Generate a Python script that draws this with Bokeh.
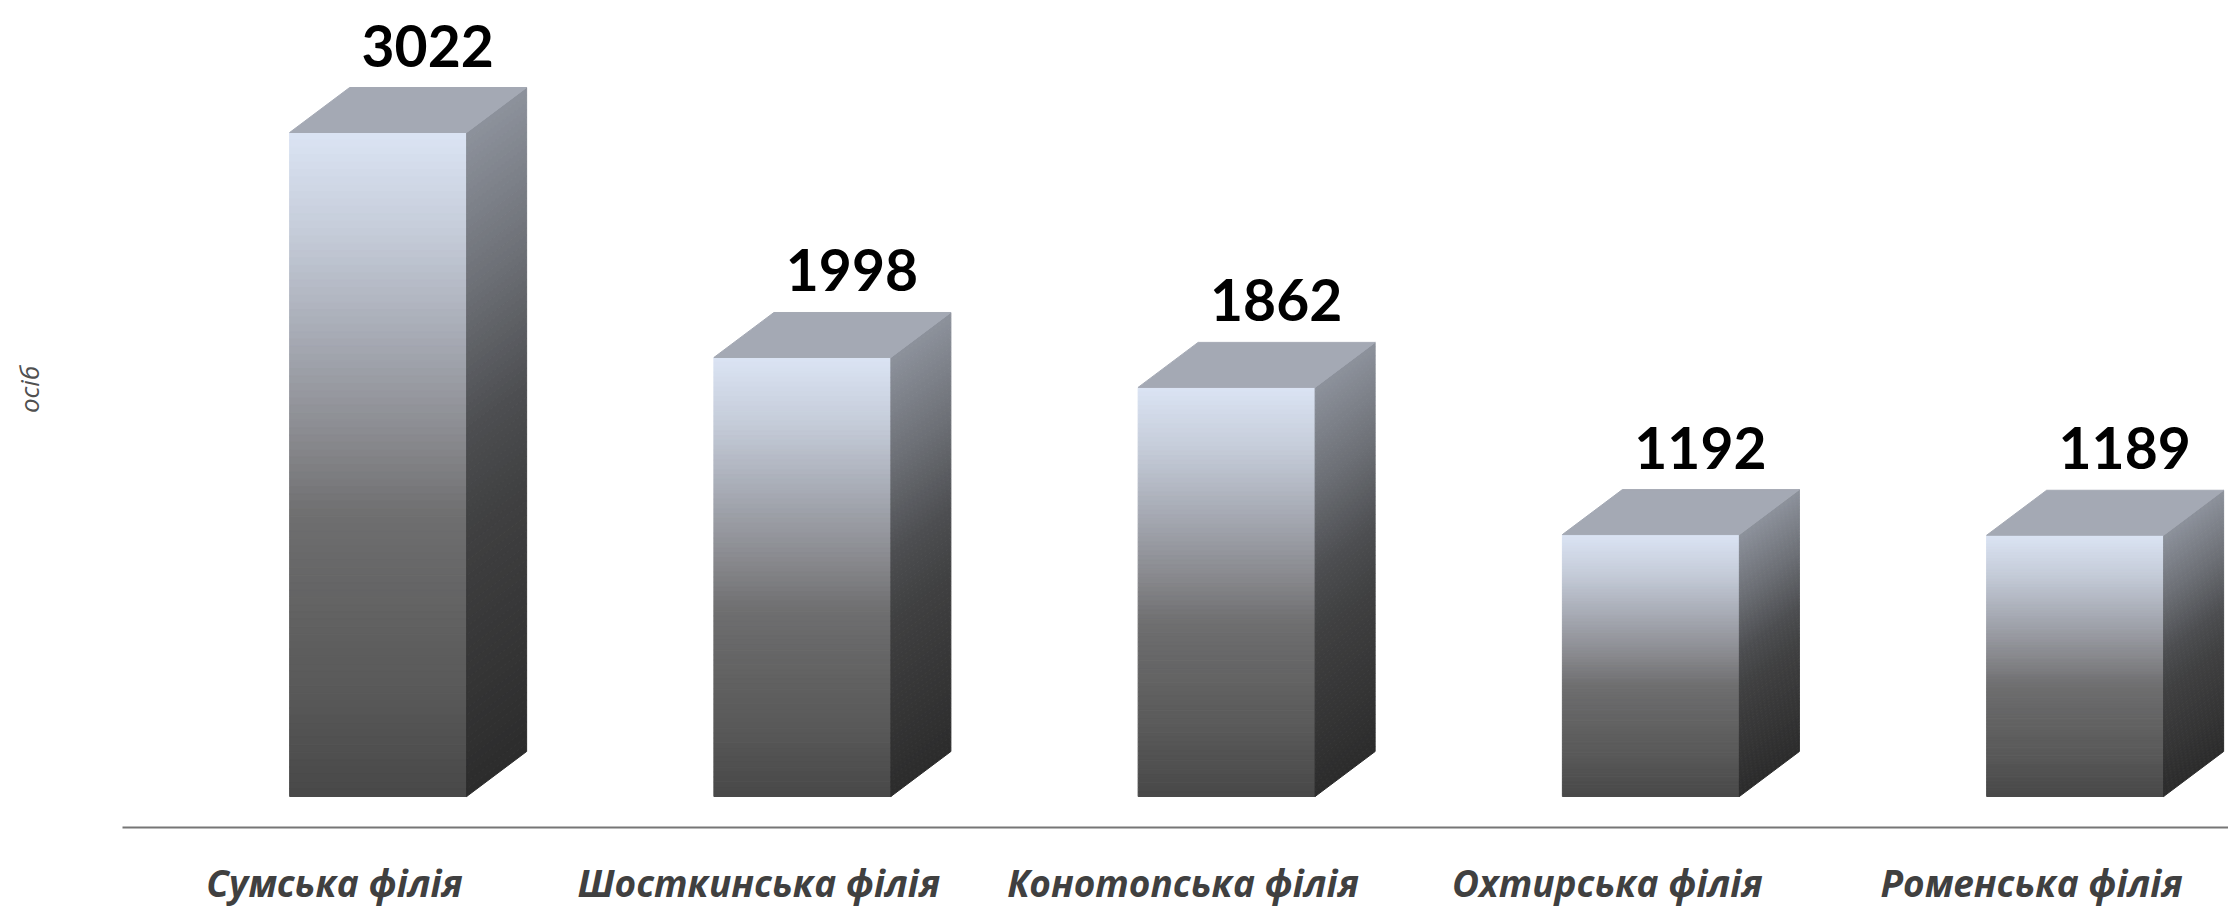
import numpy as np
from bokeh.plotting import figure
from bokeh.models import Range1d, FixedTicker
from bokeh.core.properties import value
from bokeh.embed import file_html
from bokeh.resources import INLINE

# ---------------- data ----------------
categories = ["Сумська філія", "Шосткинська філія", "Конотопська філія",
              "Охтирська філія", "Роменська філія"]
values = [3022, 1998, 1862, 1192, 1189]
value_labels = ["3022", "1998", "1862", "1192", "1189"]
y_axis_title = "осіб"

# ---------------- layout (pixels) ----------------
FIG_W, FIG_H = 2228, 907
AXIS_LEFT = 122           # where the category axis starts
SLOT_PX = 424.25          # px per category
PX_PER_UNIT = 664 / 3022  # px per value unit
ZERO_Y = 796              # screen y of value 0
AXIS_Y = 827              # screen y of axis line


def xdata(sx):
    return (sx - AXIS_LEFT) / SLOT_PX


def ydata(sy):
    return (ZERO_Y - sy) / PX_PER_UNIT


x_start, x_end = xdata(0), xdata(FIG_W)
y_start, y_end = ydata(FIG_H), ydata(0)

FRONT_OFF = -45.0 / SLOT_PX   # front-face left relative to slot centre
FRONT_W = 177.0 / SLOT_PX
DX = 60.0 / SLOT_PX
DY = 45.0 / PX_PER_UNIT
LABEL_DX = 93.0 / SLOT_PX
LABEL_GAP = 42.0 / PX_PER_UNIT

front_stops = [(0.00, "#dbe4f4"), (0.15, "#c5ccd9"), (0.30, "#a8acb6"),
               (0.45, "#8b8c91"), (0.58, "#6e6e6f"), (0.70, "#646464"),
               (0.85, "#585858"), (1.00, "#484848")]
side_stops = [(0.00, "#8d929c"), (0.25, "#6b6e74"), (0.45, "#4d4e51"),
              (0.60, "#404041"), (1.00, "#2c2c2c")]
TOP_COLOR = "#a4a9b4"


def hex2rgb(h):
    h = h.lstrip("#")
    return [int(h[i:i + 2], 16) for i in (0, 2, 4)]


def interp(stops, t):
    for (t0, c0), (t1, c1) in zip(stops[:-1], stops[1:]):
        if t0 <= t <= t1:
            f = (t - t0) / (t1 - t0) if t1 > t0 else 0
            a, b = hex2rgb(c0), hex2rgb(c1)
            rgb = [round(a[i] + (b[i] - a[i]) * f) for i in range(3)]
            return "#%02x%02x%02x" % tuple(rgb)
    return stops[-1][1]


p = figure(width=FIG_W, height=FIG_H, output_backend="svg", toolbar_location=None,
           x_range=Range1d(x_start, x_end), y_range=Range1d(y_start, y_end),
           min_border_left=0, min_border_right=0, min_border_top=0,
           min_border_bottom=0)
p.background_fill_color = "white"
p.border_fill_color = "white"
p.outline_line_color = None
p.xgrid.visible = False
p.ygrid.visible = False
p.yaxis.visible = False

N = 90
fl, fr, fb, ft, fc = [], [], [], [], []
sxs, sys_, sc = [], [], []
txs, tys = [], []
for i, v in enumerate(values):
    c = i + 0.5
    xl = c + FRONT_OFF
    xr = xl + FRONT_W
    for k in range(N):
        ya = v * (1 - (k + 1) / N)
        yb = v * (1 - k / N)
        t = (k + 0.5) / N
        fl.append(xl); fr.append(xr); fb.append(ya); ft.append(yb)
        fc.append(interp(front_stops, t))
        sxs.append([xr, xr + DX, xr + DX, xr])
        sys_.append([ya, ya + DY, yb + DY, yb])
        sc.append(interp(side_stops, t))
    txs.append([xl, xl + DX, xr + DX, xr])
    tys.append([v, v + DY, v + DY, v])

p.quad(left=fl, right=fr, bottom=fb, top=ft, fill_color=fc, line_color=fc, line_width=1)
p.patches(xs=sxs, ys=sys_, fill_color=sc, line_color=sc, line_width=1)
p.patches(xs=txs, ys=tys, fill_color=TOP_COLOR, line_color=TOP_COLOR, line_width=1)

# value labels
lx = [i + 0.5 + LABEL_DX for i in range(len(values))]
ly = [v + DY + LABEL_GAP for v in values]
p.text(x=lx, y=ly, text=value_labels, text_font=value("Lato"), text_font_style="bold",
       text_font_size="57px", text_color="black", text_align="center",
       text_baseline="alphabetic")

# x axis (fixed inside the frame, line starting at AXIS_LEFT)
ticks = [i + 0.5 for i in range(len(categories))]
p.xaxis.fixed_location = ydata(AXIS_Y)
p.xaxis.bounds = (0, x_end)
p.xaxis.ticker = FixedTicker(ticks=ticks)
p.xaxis.major_label_overrides = {t: c for t, c in zip(ticks, categories)}
p.xaxis.major_tick_line_color = None
p.xaxis.minor_tick_line_color = None
p.xaxis.major_tick_out = 0
p.xaxis.minor_tick_out = 0
p.xaxis.major_tick_in = 0
p.xaxis.axis_line_color = "#767676"
p.xaxis.axis_line_width = 2
p.xaxis.major_label_text_font = "Open Sans"
p.xaxis.major_label_text_font_style = "bold italic"
p.xaxis.major_label_text_font_size = "37px"
p.xaxis.major_label_text_color = "#404040"
p.xaxis.major_label_standoff = 29

# y axis title
p.text(x=[xdata(28)], y=[ydata(389)], text=[y_axis_title], angle=np.pi / 2,
       text_font=value("Open Sans"), text_font_style="italic", text_font_size="26px",
       text_color="#505050", text_align="center", text_baseline="middle")

open("out.html", "w").write(file_html(p, INLINE))
